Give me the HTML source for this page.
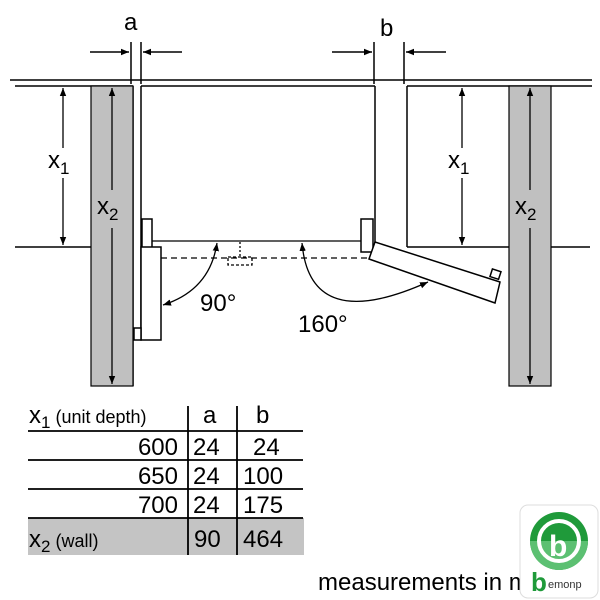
<!DOCTYPE html>
<html><head><style>body{margin:0;background:#fff}svg{display:block}</style></head><body>
<svg width="600" height="600" viewBox="0 0 600 600" xmlns="http://www.w3.org/2000/svg" font-family="Liberation Sans, sans-serif">
<defs><marker id="ah" viewBox="0 0 10 10" refX="10" refY="5" markerWidth="8" markerHeight="8" orient="auto-start-reverse" markerUnits="userSpaceOnUse"><path d="M0,1 L10,5 L0,9 z" fill="#000"/></marker></defs>
<g stroke="#000" stroke-width="1.5" fill="none">
<line x1="10" y1="80" x2="592" y2="80"/>
<line x1="15" y1="86" x2="133" y2="86"/>
<line x1="141" y1="86" x2="375" y2="86"/>
<line x1="407" y1="86" x2="592" y2="86"/>
<line x1="133" y1="86" x2="133" y2="386"/>
<line x1="141" y1="86" x2="141" y2="340"/>
<line x1="375" y1="86" x2="375" y2="247"/>
<line x1="407" y1="86" x2="407" y2="247"/>
<line x1="407" y1="247" x2="509" y2="247"/>
<line x1="15" y1="247" x2="91" y2="247"/>
<line x1="551" y1="247" x2="590" y2="247"/>
<line x1="131" y1="42" x2="131" y2="84"/><line x1="141" y1="42" x2="141" y2="84"/>
<line x1="90" y1="52" x2="129" y2="52" marker-end="url(#ah)"/>
<line x1="182" y1="52" x2="143" y2="52" marker-end="url(#ah)"/>
<line x1="374" y1="42" x2="374" y2="84"/><line x1="404" y1="42" x2="404" y2="84"/>
<line x1="332" y1="52" x2="372" y2="52" marker-end="url(#ah)"/>
<line x1="446" y1="52" x2="406" y2="52" marker-end="url(#ah)"/>
</g>
<rect x="91" y="86" width="42" height="300" fill="#c0c0c0" stroke="#000" stroke-width="1.2"/>
<rect x="509" y="86" width="42" height="300" fill="#c0c0c0" stroke="#000" stroke-width="1.2"/>
<g stroke="#000" stroke-width="1.3" fill="none">
<line x1="63" y1="88" x2="63" y2="148" marker-start="url(#ah)"/><line x1="63" y1="178" x2="63" y2="245" marker-end="url(#ah)"/>
<line x1="462" y1="88" x2="462" y2="148" marker-start="url(#ah)"/><line x1="462" y1="178" x2="462" y2="245" marker-end="url(#ah)"/>
<line x1="112" y1="88" x2="112" y2="190" marker-start="url(#ah)"/><line x1="112" y1="228" x2="112" y2="384" marker-end="url(#ah)"/>
<line x1="530" y1="88" x2="530" y2="190" marker-start="url(#ah)"/><line x1="530" y1="228" x2="530" y2="384" marker-end="url(#ah)"/>
</g>
<g font-size="24" fill="#000">
<text x="124" y="30">a</text><text x="380" y="36">b</text>
<text x="48" y="168">x<tspan font-size="17" dy="6">1</tspan></text>
<text x="97" y="214">x<tspan font-size="17" dy="6">2</tspan></text>
<text x="448" y="168">x<tspan font-size="17" dy="6">1</tspan></text>
<text x="515" y="214">x<tspan font-size="17" dy="6">2</tspan></text>
</g>
<!-- doors -->
<g stroke="#000" stroke-width="1.5" fill="#fff">
<rect x="142" y="219" width="10" height="34"/>
<rect x="361" y="219" width="12" height="33"/>
<rect x="141" y="247" width="20" height="93"/>
<rect x="134" y="328" width="7" height="12"/>
<polygon points="375,242 500,282 495,303 369,259"/>
<rect x="491" y="270" width="9" height="8" transform="rotate(18 495 274)"/>
</g>
<g stroke="#000" stroke-width="1.3" fill="none">
<line x1="152" y1="241" x2="361" y2="241"/>
<line x1="161" y1="258" x2="369" y2="258" stroke-dasharray="6,4"/>
<rect x="228" y="257" width="24" height="8" stroke-dasharray="3,2"/>
<line x1="240" y1="242" x2="240" y2="257" stroke-dasharray="2,2"/>
<path d="M163,305 Q210,290 217,243" marker-start="url(#ah)" marker-end="url(#ah)"/>
<path d="M302,243 Q310,335 428,282" marker-start="url(#ah)" marker-end="url(#ah)"/>
</g>
<g font-size="24" fill="#000">
<text x="200" y="311">90°</text>
<text x="298" y="332">160°</text>
</g>
<!-- table -->
<rect x="28" y="518" width="276" height="37" fill="#c4c4c4"/>
<g stroke="#000" stroke-width="1.8">
<line x1="28" y1="431" x2="303" y2="431"/>
<line x1="28" y1="460" x2="303" y2="460"/>
<line x1="28" y1="489" x2="303" y2="489"/>
<line x1="28" y1="518" x2="303" y2="518"/>
<line x1="188" y1="406" x2="188" y2="555"/>
<line x1="237" y1="406" x2="237" y2="555"/>
</g>
<g font-size="24" fill="#000">
<text x="29" y="423">x<tspan font-size="17" dy="5">1</tspan><tspan font-size="18" dy="-5"> (unit depth)</tspan></text>
<text x="203" y="423">a</text><text x="256" y="423">b</text>
<text x="178" y="455" text-anchor="end">600</text><text x="193" y="455">24</text><text x="253" y="455">24</text>
<text x="178" y="484" text-anchor="end">650</text><text x="193" y="484">24</text><text x="243" y="484">100</text>
<text x="178" y="513" text-anchor="end">700</text><text x="193" y="513">24</text><text x="243" y="513">175</text>
<text x="29" y="547">x<tspan font-size="17" dy="5">2</tspan><tspan font-size="18" dy="-5"> (wall)</tspan></text>
<text x="194" y="547">90</text><text x="243" y="547">464</text>
<text x="318" y="590">measurements in mm</text>
</g>
<!-- logo -->
<rect x="520" y="505" width="78" height="93" rx="8" fill="#fff" stroke="#ddd"/>
<circle cx="559" cy="541" r="29" fill="#1f9a3a"/>
<path d="M530,541 A29,29 0 0 0 588,541 Z" fill="#5cc072"/>
<circle cx="559" cy="541" r="20" fill="none" stroke="#fff" stroke-width="4"/>
<text x="549" y="556" font-size="30" font-weight="bold" fill="#fff">b</text>
<text x="531" y="591" font-size="26" font-weight="bold" fill="#1f9a3a">b</text>
<text x="548" y="588" font-size="11" fill="#333">emonp</text>
</svg>
</body></html>
